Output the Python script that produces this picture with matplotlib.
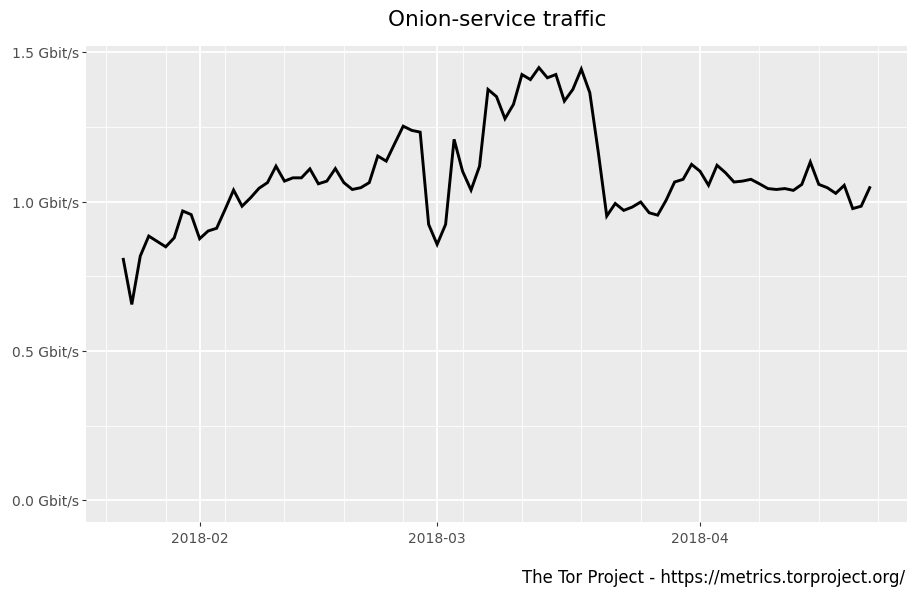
"""Onion-service traffic, redrawn in matplotlib with a ggplot-like look."""

import matplotlib

matplotlib.use("Agg")
import matplotlib.dates as mdates
import matplotlib.pyplot as plt
import pandas as pd
from matplotlib.ticker import FixedLocator, FuncFormatter

START_DATE = "2018-01-23"
TRAFFIC_GBIT = [
    # Jan 23 - Jan 31
    0.807, 0.656, 0.818, 0.885, 0.867, 0.849, 0.879, 0.969, 0.957,
    # Feb
    0.876, 0.902, 0.911, 0.974, 1.039, 0.985, 1.013, 1.045, 1.064, 1.119,
    1.069, 1.080, 1.080, 1.110, 1.060, 1.069, 1.111, 1.064, 1.041, 1.047,
    1.064, 1.153, 1.136, 1.195, 1.253, 1.239, 1.233, 0.924,
    # Mar
    0.857, 0.924, 1.209, 1.102, 1.039, 1.119, 1.376, 1.352, 1.278, 1.326,
    1.426, 1.409, 1.449, 1.415, 1.426, 1.337, 1.376, 1.444, 1.365, 1.166,
    0.952, 0.994, 0.971, 0.982, 0.999, 0.963, 0.955, 1.005, 1.066, 1.075,
    1.125,
    # Apr 1 - Apr 21
    1.102, 1.055, 1.122, 1.097, 1.066, 1.069, 1.075, 1.060, 1.044, 1.041,
    1.044, 1.038, 1.058, 1.133, 1.058, 1.047, 1.028, 1.055, 0.977, 0.985,
    1.047,
]
Y_TICKS = [0.0, 0.5, 1.0, 1.5]
Y_MINOR = [0.25, 0.75, 1.25]
TITLE = "Onion-service traffic"
CAPTION = "The Tor Project - https://metrics.torproject.org/"

dates = pd.date_range(START_DATE, periods=len(TRAFFIC_GBIT), freq="D")

fig = plt.figure(figsize=(9.09, 5.89), dpi=100)
ax = fig.add_axes([0.0946, 0.1138, 0.9032, 0.8081])
ax.set_facecolor("#EBEBEB")
for spine in ax.spines.values():
    spine.set_visible(False)

ax.plot(dates, TRAFFIC_GBIT, color="black", linewidth=2.1, solid_joinstyle="miter", zorder=3)

# ggplot-style 5% expansion around the data range (y starts at zero)
span = dates[-1] - dates[0]
ax.set_xlim(dates[0] - span * 0.05, dates[-1] + span * 0.05)
ymax = max(TRAFFIC_GBIT)
ax.set_ylim(-ymax * 0.05, ymax * 1.05)

ax.xaxis.set_major_locator(mdates.MonthLocator())
ax.xaxis.set_major_formatter(mdates.DateFormatter("%Y-%m"))
ax.xaxis.set_minor_locator(mdates.WeekdayLocator(byweekday=mdates.SU))
ax.yaxis.set_major_locator(FixedLocator(Y_TICKS))
ax.yaxis.set_minor_locator(FixedLocator(Y_MINOR))
ax.yaxis.set_major_formatter(FuncFormatter(lambda v, _: f"{v:.1f} Gbit/s"))

ax.grid(which="major", color="white", linewidth=1.3)
ax.grid(which="minor", color="white", linewidth=0.6)
ax.set_axisbelow(True)

ax.tick_params(which="major", length=3, width=0.8, color="#333333",
               labelcolor="#4D4D4D", labelsize=10, pad=2)
ax.tick_params(axis="x", which="major", pad=4)
ax.tick_params(which="minor", length=0)

fig.text(0.5467, 0.966, TITLE, ha="center", va="center", fontsize=15.5, color="black")
fig.text(0.996, 0.019, CAPTION, ha="right", va="center", fontsize=11.9, color="black")

fig.savefig("out.png", dpi=100)
